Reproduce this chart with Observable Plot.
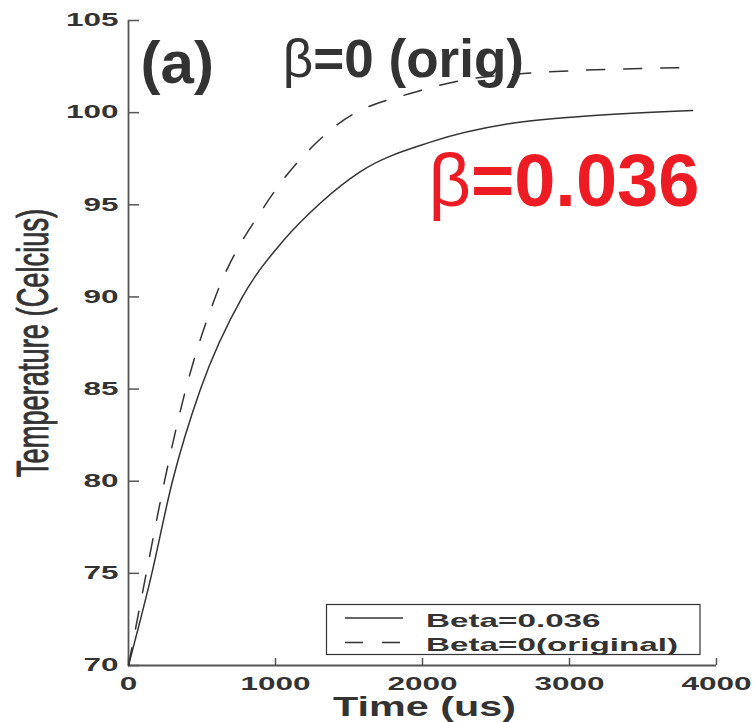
<!DOCTYPE html>
<html><head><meta charset="utf-8">
<script src="https://cdn.jsdelivr.net/npm/d3@7"></script>
<script src="https://cdn.jsdelivr.net/npm/@observablehq/plot@0.6"></script>
<style>body{margin:0;background:#fff}#chart{width:755px;height:722px}</style>
</head><body><div id="chart"></div>
<script>
// Beta = 0.036 (solid)
const timeBeta036 = [0, 150, 299, 490, 775, 1054, 1306, 1578, 2054, 2599, 3075, 3837];
const tempBeta036 = [70, 74.7, 80, 85, 90, 93.06, 95.1, 96.8, 98.4, 99.41, 99.79, 100.11];
// Beta = 0 original (dashed)
const timeBeta0 = [0, 122, 245, 390, 592, 932, 1395, 1986, 2259, 2687, 3823];
const tempBeta0 = [70, 75.05, 80, 85, 90.02, 95.01, 99.19, 101.2, 101.74, 102.12, 102.45];
const xTicks = [0, 1000, 2000, 3000, 4000];
const yTicks = [70, 75, 80, 85, 90, 95, 100, 105];
const seriesNames = ["Beta=0.036", "Beta=0(original)"];

const solid = timeBeta036.map((t, i) => ({t, T: tempBeta036[i]}));
const dashed = timeBeta0.map((t, i) => ({t, T: tempBeta0[i]}));

const ink = "#333";
const axisGray = "#555";
const red = "#ed1c24";
const font = "'Liberation Sans', Arial, Helvetica, sans-serif";

const plot = Plot.plot({
  width: 755, height: 722,
  marginLeft: 128, marginRight: 39, marginTop: 20, marginBottom: 57,
  x: {domain: [0, 4000]},
  y: {domain: [70, 105]},
  style: {fontFamily: font, background: "#fff", color: ink, overflow: "visible"},
  marks: [
    Plot.ruleY(yTicks, {insetRight: 577, stroke: axisGray, strokeWidth: 1.5}),
    Plot.ruleX(xTicks, {insetTop: 638, stroke: axisGray, strokeWidth: 1.5}),
    Plot.ruleX([0], {stroke: axisGray, strokeWidth: 1.8}),
    Plot.ruleY([70], {stroke: axisGray, strokeWidth: 1.8}),
    Plot.axisY({ticks: yTicks, tickFormat: d3.format("d"), tickSize: 0, tickPadding: 10, fontSize: 18, fontWeight: "bold", label: null}),
    Plot.axisX({ticks: xTicks, tickFormat: d3.format("d"), tickSize: 0, tickPadding: 12, fontSize: 18, fontWeight: "bold", label: null}),
    Plot.line(dashed, {x: "t", y: "T", stroke: ink, strokeWidth: 1.5, strokeDasharray: "18,19", curve: "monotone-x"}),
    Plot.line(solid, {x: "t", y: "T", stroke: ink, strokeWidth: 1.5, curve: "monotone-x"}),
    Plot.text(["Temperature (Celcius)"], {text: d => d, frameAnchor: "left", dx: -81, rotate: -90, textAnchor: "middle", lineAnchor: "bottom", fontSize: 44, fill: ink, stroke: ink, strokeWidth: 0.9}),
    Plot.text(["Time (us)"], {text: d => d, frameAnchor: "bottom", dx: 2, dy: 50.5, textAnchor: "middle", lineAnchor: "bottom", fontSize: 28.5, fontWeight: "bold", fill: ink}),
    Plot.text(["(a)"], {text: d => d, x: 82, y: 101.63, textAnchor: "start", lineAnchor: "bottom", fontSize: 60, fontWeight: "bold", fill: ink}),
    Plot.text(["β=0 (orig)"], {text: d => d, x: 1050, y: 101.95, textAnchor: "start", lineAnchor: "bottom", fontSize: 53, fontWeight: "bold", fill: ink}),
    Plot.text(["β=0.036"], {text: d => d, x: 2040, y: 94.96, textAnchor: "start", lineAnchor: "bottom", fontSize: 74, fontWeight: "bold", fill: red})
  ]
});

document.getElementById("chart").appendChild(plot);

// horizontal stretch of text to mimic the original figure's wide lettering
function stretch(el, s) {
  const tr = el.getAttribute("transform");
  if (tr) { el.setAttribute("transform", tr + ` scale(${s},1)`); return; }
  const x = el.getAttribute("x");
  if (x != null && !String(x).endsWith("em")) {
    el.removeAttribute("x");
    el.setAttribute("transform", `translate(${+x},0) scale(${s},1)`);
  } else {
    el.setAttribute("transform", `scale(${s},1)`);
  }
}
const svg = d3.select(plot);
svg.selectAll("text").each(function () {
  const t = this.textContent.trim();
  if (/^\d+$/.test(t)) stretch(this, 1.75);
  else if (t === "Time (us)") stretch(this, 1.45);
  else if (t === "Temperature (Celcius)") stretch(this, 0.62);
  else if (t.startsWith("β")) {
    // Greek beta drawn in a regular (symbol-like) weight, rest bold
    const rest = t.slice(1);
    const sel = d3.select(this);
    sel.text(null);
    sel.append("tspan").attr("font-weight", "normal").text("β");
    sel.append("tspan").text(rest);
  }
});

// legend
const lg = svg.append("g").attr("aria-label", "legend");
lg.append("rect").attr("x", 326.5).attr("y", 604.5).attr("width", 373.5).attr("height", 50)
  .attr("fill", "#fff").attr("stroke", ink).attr("stroke-width", 1.2);
const dashes = [null, "18,19"];
seriesNames.forEach((name, i) => {
  const y = 618 + i * 24.5;
  lg.append("line").attr("x1", 345).attr("x2", 403).attr("y1", y).attr("y2", y)
    .attr("stroke", ink).attr("stroke-width", 1.3).attr("stroke-dasharray", dashes[i]);
  lg.append("text").attr("transform", `translate(426,${y + 8.5}) scale(1.75,1)`)
    .attr("text-anchor", "start")
    .attr("font-family", font).attr("font-size", 19).attr("font-weight", "bold")
    .attr("fill", ink).text(name);
});
</script>
</body></html>
